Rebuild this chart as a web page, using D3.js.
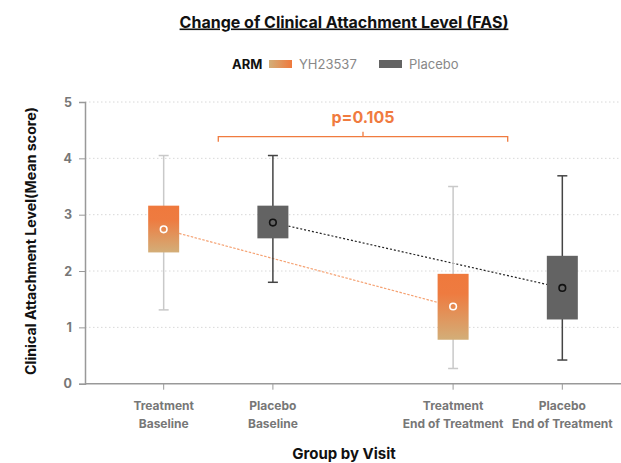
<!DOCTYPE html>
<html><head><meta charset="utf-8">
<script src="https://cdn.jsdelivr.net/npm/d3@7"></script>
<style>body{margin:0;background:#fff;font-family:Inter,"Noto Sans",sans-serif;}</style>
</head><body><svg id="c" width="621" height="463"></svg>
<script>
const visits = ["Baseline", "End of Treatment"];
const arms = ["YH23537", "Placebo"];
const armLabels = ["Treatment", "Placebo"];
const whiskerLow  = [[1.31, 1.80], [0.27, 0.42]];
const boxLow      = [[2.33, 2.58], [0.78, 1.14]];
const boxHigh     = [[3.16, 3.16], [1.95, 2.27]];
const whiskerHigh = [[4.05, 4.05], [3.50, 3.69]];
const means       = [[2.74, 2.86], [1.37, 1.70]];
const yTicks = [0, 1, 2, 3, 4, 5];
const pText = "p=0.105";

const svg = d3.select("#c");
const defs = svg.append("defs");
const g1 = defs.append("linearGradient").attr("id","gv").attr("x1",0).attr("y1",0).attr("x2",0).attr("y2",1);
g1.append("stop").attr("offset","0%").attr("stop-color","#EF793D");
g1.append("stop").attr("offset","30%").attr("stop-color","#EE7B40");
g1.append("stop").attr("offset","100%").attr("stop-color","#D3AE78");
const g2 = defs.append("linearGradient").attr("id","gh").attr("x1",0).attr("y1",0).attr("x2",1).attr("y2",0);
g2.append("stop").attr("offset","0%").attr("stop-color","#D3AE78");
g2.append("stop").attr("offset","100%").attr("stop-color","#EF793D");

const y = d3.scaleLinear().domain([0,5]).range([383.7,102]);
const xV = d3.scaleBand().domain(visits).range([85,641]).paddingInner(0.2).paddingOuter(0.0605);
const xA = d3.scaleBand().domain(arms).range([0,xV.bandwidth()]).paddingInner(0.7).paddingOuter(0.41);
const cx = (vi, ai) => xV(visits[vi]) + xA(arms[ai]) + xA.bandwidth()/2;
const bw = 31;

// grid
svg.append("g").selectAll("line").data(yTicks.filter(d=>d>0)).join("line")
  .attr("x1",85).attr("x2",621).attr("y1",d=>y(d)).attr("y2",d=>y(d))
  .attr("stroke","#d8d8d8").attr("stroke-dasharray","1.5,2.5").attr("stroke-width",1);

// y axis
const ya = svg.append("g").attr("transform","translate(85,0)")
  .call(d3.axisLeft(y).tickValues(yTicks).tickSize(6).tickPadding(7).tickFormat(d3.format("d")));
ya.select(".domain").attr("stroke","#999").attr("stroke-width",1.5);
ya.selectAll(".tick line").attr("stroke","#999");
ya.selectAll("text").attr("fill","#777").attr("font-size",12.5).attr("font-weight",700).attr("font-family","Inter");

// x axis
svg.append("line").attr("x1",85).attr("x2",621).attr("y1",y(0)).attr("y2",y(0)).attr("stroke","#999").attr("stroke-width",1.5);
const cats = [];
visits.forEach((v,vi)=>arms.forEach((a,ai)=>cats.push({vi,ai})));
svg.append("g").selectAll("line").data(cats).join("line")
  .attr("x1",d=>cx(d.vi,d.ai)).attr("x2",d=>cx(d.vi,d.ai)).attr("y1",y(0)).attr("y2",y(0)+6).attr("stroke","#999");
const xl = svg.append("g").selectAll("text").data(cats).join("text")
  .attr("x",d=>cx(d.vi,d.ai)).attr("text-anchor","middle").attr("fill","#777")
  .attr("font-size",12).attr("font-weight",700);
xl.append("tspan").attr("x",d=>cx(d.vi,d.ai)).attr("y",410).text(d=>armLabels[d.ai]);
xl.append("tspan").attr("x",d=>cx(d.vi,d.ai)).attr("y",428).text(d=>visits[d.vi]);

// mean lines
arms.forEach((a,ai)=>{
  svg.append("line").attr("x1",cx(0,ai)).attr("y1",y(means[0][ai])).attr("x2",cx(1,ai)).attr("y2",y(means[1][ai]))
    .attr("stroke", ai===0 ? "#F5A273" : "#222").attr("stroke-width",1.2)
    .attr("stroke-dasharray", ai===0 ? "2.5,1.5" : "2,2");
});

// boxes
cats.forEach(({vi,ai})=>{
  const x = cx(vi,ai);
  const wc = ai===0 ? "#c9c9c9" : "#444";
  const g = svg.append("g");
  g.append("line").attr("x1",x).attr("x2",x).attr("y1",y(whiskerLow[vi][ai])).attr("y2",y(whiskerHigh[vi][ai])).attr("stroke",wc).attr("stroke-width",1.5);
  [whiskerLow[vi][ai], whiskerHigh[vi][ai]].forEach(v=>{
    g.append("line").attr("x1",x-5).attr("x2",x+5).attr("y1",y(v)).attr("y2",y(v)).attr("stroke",wc).attr("stroke-width",1.5);
  });
  g.append("rect").attr("x",x-bw/2).attr("width",bw).attr("y",y(boxHigh[vi][ai]))
    .attr("height",y(boxLow[vi][ai])-y(boxHigh[vi][ai]))
    .attr("fill", ai===0 ? "url(#gv)" : "#636363");
  g.append("circle").attr("cx",x).attr("cy",y(means[vi][ai])).attr("r",3.3)
    .attr("fill", ai===0 ? "none" : "#636363").attr("stroke", ai===0 ? "#fff" : "#111").attr("stroke-width",1.6);
});

// p-value bracket
const bx1 = xV(visits[0]) + xV.bandwidth()/2, bx2 = xV(visits[1]) + xV.bandwidth()/2;
const by = 136.7, mid = (bx1+bx2)/2;
svg.append("path").attr("d",`M${bx1},${by+5}V${by}H${bx2}V${by+5}M${mid},${by}V${by-5}`)
  .attr("fill","none").attr("stroke","#F07B3F").attr("stroke-width",1.3);
svg.append("text").attr("x",mid).attr("y",123).attr("text-anchor","middle").attr("fill","#F07B3F")
  .attr("font-size",16).attr("font-weight",700).text(pText);

// title
svg.append("text").attr("x",344).attr("y",27.5).attr("text-anchor","middle")
  .attr("font-size",16).attr("font-weight",700).attr("fill","#111").attr("text-decoration","underline")
  .text("Change of Clinical Attachment Level (FAS)");

// legend
svg.append("text").attr("x",232).attr("y",69).attr("font-size",13).attr("font-weight",700).attr("fill","#111").text("ARM");
svg.append("rect").attr("x",269).attr("y",60).attr("width",23).attr("height",8).attr("fill","url(#gh)");
svg.append("text").attr("x",299).attr("y",69).attr("font-size",13).attr("fill","#888").text(arms[0]);
svg.append("rect").attr("x",379).attr("y",60).attr("width",23).attr("height",8).attr("fill","#636363");
svg.append("text").attr("x",409).attr("y",69).attr("font-size",13).attr("fill","#888").text(arms[1]);

// axis titles
svg.append("text").attr("transform","translate(35.5,241) rotate(-90)").attr("text-anchor","middle")
  .attr("font-size",14.2).attr("font-weight",700).attr("fill","#111").text("Clinical Attachment Level(Mean score)");
svg.append("text").attr("x",344).attr("y",458.5).attr("text-anchor","middle")
  .attr("font-size",15).attr("font-weight",700).attr("fill","#111").text("Group by Visit");
</script></body></html>
